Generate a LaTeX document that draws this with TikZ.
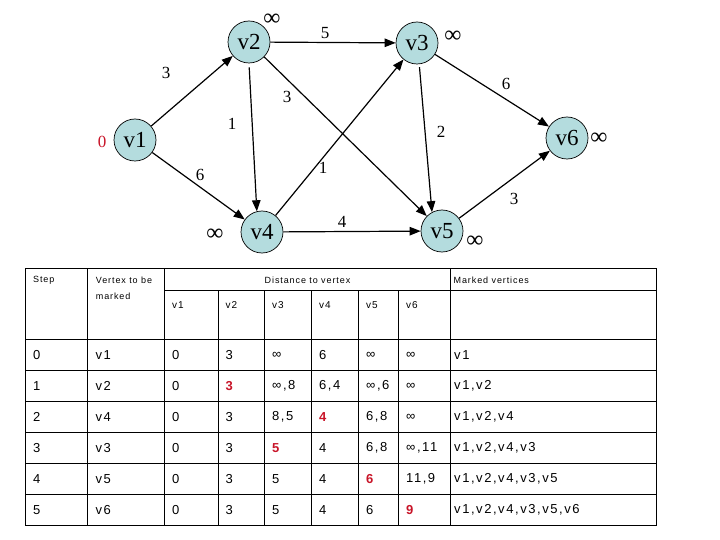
\documentclass[tikz,border=0pt]{standalone}
\usepackage{fontspec}
\setmainfont{Liberation Serif}
\newfontfamily\tabfont[LetterSpace=12]{Liberation Sans}
\newfontfamily\hdfont[LetterSpace=10]{Liberation Sans}
\usetikzlibrary{arrows.meta}
\definecolor{nodefill}{RGB}{180,220,222}
\definecolor{myred}{RGB}{200,20,40}
\newcommand\redb[1]{\textcolor{myred}{\bfseries #1}}
\begin{document}
\begin{tikzpicture}[x=1pt,y=-1pt,
  vert/.style={circle,draw,line width=0.7pt,fill=nodefill,minimum size=42pt,inner sep=0pt,font=\fontsize{23}{23}\selectfont},
  edge/.style={line width=1.2pt,-{Triangle[length=11pt,width=8.5pt]}},
  wlab/.style={font=\fontsize{17}{17}\selectfont,inner sep=0pt},
  inf/.style={font=\fontsize{24}{24}\selectfont,inner sep=0pt},
  hd/.style={font=\hdfont\fontsize{9}{10}\selectfont,inner sep=0pt,anchor=west},
  cell/.style={font=\tabfont\fontsize{13}{13}\selectfont,inner sep=0pt,anchor=west},
  grid/.style={line width=1pt}
]
\useasboundingbox (0,0) rectangle (720,540);
% graph nodes
\node[vert] (v1) at (135,140) {v1};
\node[vert] (v2) at (249,42) {v2};
\node[vert] (v3) at (417,43) {v3};
\node[vert] (v4) at (262,232) {v4};
\node[vert] (v5) at (442,231) {v5};
\node[vert] (v6) at (567,138) {v6};
% distance labels
\node[wlab,text=myred] (d1) at (102,142) {0};
\node[inf] (d2) at (272,20) {∞};
\node[inf] (d3) at (453,37) {∞};
\node[inf] (d4) at (215,235) {∞};
\node[inf] (d5) at (475,242) {∞};
\node[inf] (d6) at (599,139) {∞};
% edges
\draw[edge] (v1) -- (v2);
\draw[edge] (v2) -- (v3);
\draw[edge,shorten <=4pt] (v2.south) -- (v4.104);
\draw[edge] (v2) -- (v5);
\draw[edge] (v1) -- (v4);
\draw[edge] (v4) -- (v3);
\draw[edge,shorten <=3pt] (v3.276) -- (v5.118);
\draw[edge] (v3) -- (v6);
\draw[edge] (v4) -- (v5);
\draw[edge] (v5) -- (v6);
% edge weights
\node[wlab] (w12) at (166,73) {3};
\node[wlab] (w23) at (325,33) {5};
\node[wlab] (w24) at (232,124) {1};
\node[wlab] (w25) at (287,97) {3};
\node[wlab] (w14) at (200,175) {6};
\node[wlab] (w43) at (323,168) {1};
\node[wlab] (w35) at (441,132) {2};
\node[wlab] (w36) at (506,84) {6};
\node[wlab] (w45) at (342,222) {4};
\node[wlab] (w56) at (514,199) {3};
% table grid
\draw[grid] (25,268) rectangle (656.7,525.3);
\foreach \yy in {339,370.7,401.8,432.7,463.3,494}
  \draw[grid] (25,\yy) -- (656.7,\yy);
\draw[grid] (164.3,290) -- (656.7,290);
\foreach \xx in {87.7,164.3,450.7}
  \draw[grid] (\xx,268) -- (\xx,525.3);
\foreach \xx in {218,264.3,311.7,358.3,398.3}
  \draw[grid] (\xx,290) -- (\xx,525.3);
% header texts
\node[hd] (hstep) at (33,280) {Step};
\node[hd] (hvert) at (95.7,280) {Vertex to be};
\node[hd] (hmark) at (95.7,296.5) {marked};
\node[hd,anchor=center] (hdist) at (307.5,280) {Distance to vertex};
\node[hd] (hmv) at (453.5,280) {Marked vertices};
\foreach \lab/\xx [count=\k] in {v1/172,v2/225.5,v3/272,v4/319,v5/366,v6/406}
  \node[hd,font=\hdfont\fontsize{10}{10}\selectfont] (hv\k) at (\xx,305) {\lab};
% table rows
\foreach \s/\v/\a/\b/\c/\d/\e/\f/\m [count=\i from 0] in {
  0/v1/0/3/∞/6/∞/∞/{v1},
  1/v2/0/\redb{3}/{∞,8}/{6,4}/{∞,6}/∞/{v1,v2},
  2/v4/0/3/{8,5}/\redb{4}/{6,8}/∞/{v1,v2,v4},
  3/v3/0/3/\redb{5}/4/{6,8}/{∞,11}/{v1,v2,v4,v3},
  4/v5/0/3/5/4/\redb{6}/{11,9}/{v1,v2,v4,v3,v5},
  5/v6/0/3/5/4/6/\redb{9}/{v1,v2,v4,v3,v5,v6}}{
  \pgfmathsetmacro\yy{354.9+31.07*\i}
  \node[cell] (rs\i) at (33,\yy) {\s};
  \node[cell] (rv\i) at (95.5,\yy) {\v};
  \node[cell] (ra\i) at (172,\yy) {\a};
  \node[cell] (rb\i) at (225.5,\yy) {\b};
  \node[cell] (rc\i) at (272,\yy) {\c};
  \node[cell] (rd\i) at (319,\yy) {\d};
  \node[cell] (re\i) at (366,\yy) {\e};
  \node[cell] (rf\i) at (406,\yy) {\f};
  \node[cell] (rm\i) at (454,\yy) {\m};
}
\end{tikzpicture}
\end{document}
